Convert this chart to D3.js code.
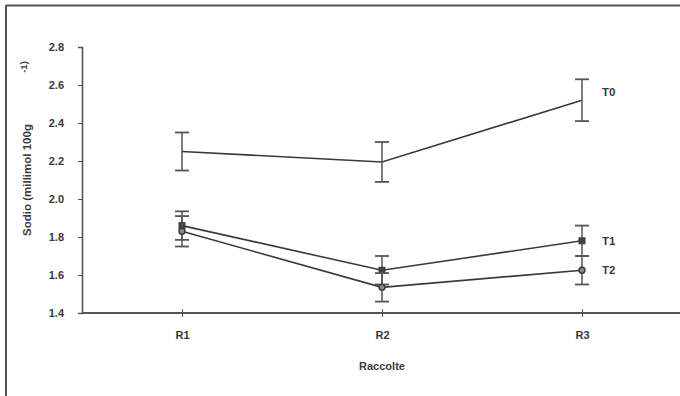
<!DOCTYPE html>
<html>
<head>
<meta charset="utf-8">
<script src="https://cdn.jsdelivr.net/npm/d3@7"></script>
<style>
  html, body { margin: 0; padding: 0; background: #fff; }
  svg { display: block; font-family: "Liberation Sans", Arial, sans-serif; }
</style>
</head>
<body>
<svg id="chart" width="680" height="396"></svg>
<script>
// Harvests on the x axis
const categories = ["R1", "R2", "R3"];
// Sodium content per treatment (means)
const seriesNames = ["T0", "T1", "T2"];
const t0Values = [2.25, 2.195, 2.52];
const t1Values = [1.86, 1.625, 1.78];
const t2Values = [1.83, 1.535, 1.625];
// Standard errors per treatment
const t0Errors = [0.10, 0.105, 0.11];
const t1Errors = [0.075, 0.075, 0.08];
const t2Errors = [0.08, 0.075, 0.075];
// Y axis ticks
const yTicks = [1.4, 1.6, 1.8, 2.0, 2.2, 2.4, 2.6, 2.8];

const series = [
  { name: "T0", values: t0Values, errors: t0Errors, marker: "none" },
  { name: "T1", values: t1Values, errors: t1Errors, marker: "square" },
  { name: "T2", values: t2Values, errors: t2Errors, marker: "circle" }
];

const svg = d3.select("#chart");
const ink = "#3a3a3a";

// Frame lines (top and left)
svg.append("line").attr("x1", 6).attr("x2", 680).attr("y1", 5.5).attr("y2", 5.5)
  .attr("stroke", "#555").attr("stroke-width", 2);
svg.append("line").attr("x1", 6).attr("x2", 6).attr("y1", 5).attr("y2", 396)
  .attr("stroke", "#555").attr("stroke-width", 2);

const x = d3.scalePoint().domain(categories).range([182, 582]);
const y = d3.scaleLinear().domain([1.4, 2.8]).range([313, 47]);

// Y axis
const yAxis = svg.append("g").attr("transform", "translate(82,0)")
  .call(d3.axisLeft(y).tickValues(yTicks).tickFormat(d3.format(".1f")).tickSize(4).tickPadding(14));
yAxis.select(".domain").attr("stroke", "#555").attr("stroke-width", 1.6);
yAxis.selectAll(".tick line").attr("stroke", "#555");
yAxis.selectAll(".tick text").attr("fill", ink).attr("font-size", 11).attr("font-weight", "bold")
  .attr("font-family", "Liberation Sans, Arial, sans-serif");

// X axis line spanning to the right edge
svg.append("line").attr("x1", 82).attr("x2", 680).attr("y1", 313).attr("y2", 313)
  .attr("stroke", "#555").attr("stroke-width", 2);
const xAxis = svg.append("g").attr("transform", "translate(0,313)")
  .call(d3.axisBottom(x).tickSize(4).tickPadding(14));
xAxis.select(".domain").remove();
xAxis.selectAll(".tick line").attr("y1", -4).attr("stroke", "#555");
xAxis.selectAll(".tick text").attr("fill", ink).attr("font-size", 11).attr("font-weight", "bold")
  .attr("font-family", "Liberation Sans, Arial, sans-serif");

// Axis titles
svg.append("text").attr("x", 382).attr("y", 370).attr("text-anchor", "middle")
  .attr("fill", ink).attr("font-size", 11).attr("font-weight", "bold").text("Raccolte");
svg.append("text").attr("transform", "translate(31,180) rotate(-90)").attr("text-anchor", "middle")
  .attr("fill", ink).attr("font-size", 11.5).attr("font-weight", "bold").text("Sodio (millimol 100g");
svg.append("text").attr("transform", "translate(27,67) rotate(-90)").attr("text-anchor", "middle")
  .attr("fill", ink).attr("font-size", 9.5).attr("font-weight", "bold").text("-1)");

const line = d3.line().x((d, i) => x(categories[i])).y(d => y(d));
const capW = 7;

series.forEach(s => {
  const g = svg.append("g");
  g.append("path").datum(s.values).attr("d", line)
    .attr("fill", "none").attr("stroke", ink).attr("stroke-width", 1.6);

  s.values.forEach((v, i) => {
    const cx = x(categories[i]);
    const lo = y(v - s.errors[i]), hi = y(v + s.errors[i]);
    g.append("line").attr("x1", cx).attr("x2", cx).attr("y1", lo).attr("y2", hi)
      .attr("stroke", "#555").attr("stroke-width", 1.5);
    [lo, hi].forEach(yy => g.append("line")
      .attr("x1", cx - capW).attr("x2", cx + capW).attr("y1", yy).attr("y2", yy)
      .attr("stroke", "#555").attr("stroke-width", 1.8));
    if (s.marker === "square") {
      g.append("rect").attr("x", cx - 3).attr("y", y(v) - 3).attr("width", 6).attr("height", 6)
        .attr("fill", "#444").attr("stroke", ink);
    } else if (s.marker === "circle") {
      g.append("circle").attr("cx", cx).attr("cy", y(v)).attr("r", 3)
        .attr("fill", "#888").attr("stroke", ink).attr("stroke-width", 1.4);
    }
  });

  const last = s.values.length - 1;
  svg.append("text").attr("x", x(categories[last]) + 20).attr("y", y(s.values[last]) - (s.name === "T0" ? 4 : -4))
    .attr("fill", ink).attr("font-size", 11.5).attr("font-weight", "bold").text(s.name);
});
</script>
</body>
</html>
